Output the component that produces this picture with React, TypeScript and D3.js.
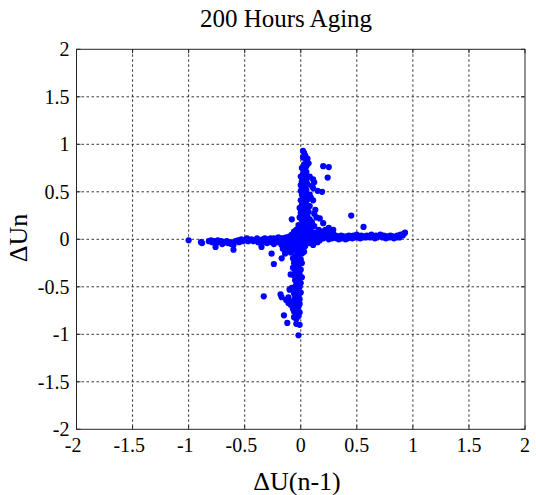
import React from "react";
import * as d3 from "d3";

const xTicks = [-2, -1.5, -1, -0.5, 0, 0.5, 1, 1.5, 2];
const yTicks = [-2, -1.5, -1, -0.5, 0, 0.5, 1, 1.5, 2];

const leftArm: [number, number][] = [
  [-1.0, -0.01], [-0.89, -0.03], [-0.88, -0.04], [-0.82, -0.02], [-0.8, -0.01], [-0.79, -0.03], [-0.77, -0.02],
  [-0.76, -0.04], [-0.76, -0.08], [-0.74, -0.01], [-0.73, -0.03], [-0.71, -0.02], [-0.7, -0.05], [-0.68, -0.03],
  [-0.66, -0.02], [-0.65, -0.04], [-0.63, -0.03], [-0.62, -0.05], [-0.6, -0.06], [-0.6, -0.11], [-0.58, -0.02],
  [-0.56, -0.01], [-0.55, -0.03], [-0.53, 0.0], [-0.52, -0.02], [-0.5, -0.01], [-0.48, 0.01], [-0.47, -0.02],
  [-0.45, -0.01], [-0.44, 0.0], [-0.42, -0.02], [-0.4, -0.01], [-0.39, 0.01], [-0.38, -0.03], [-0.36, -0.04],
  [-0.35, -0.08], [-0.35, -0.02], [-0.34, 0.0], [-0.33, -0.03], [-0.32, 0.01], [-0.31, -0.02], [-0.3, -0.04],
  [-0.29, 0.0], [-0.28, -0.02], [-0.27, 0.01], [-0.26, -0.03], [-0.26, -0.15], [-0.25, -0.01], [-0.24, -0.05],
  [-0.24, 0.01], [-0.24, -0.26], [-0.23, -0.02], [-0.22, 0.0], [-0.21, -0.03], [-0.2, 0.02], [-0.19, -0.01],
  [-0.18, -0.04], [-0.17, 0.01], [-0.17, -0.2], [-0.16, -0.02],
];

const rightArm: [number, number][] = [
  [0.1, 0.02], [0.11, -0.06], [0.12, 0.0], [0.13, 0.04], [0.14, 0.01], [0.15, 0.06], [0.15, -0.03], [0.16, 0.02],
  [0.17, -0.01], [0.18, 0.03], [0.19, 0.08], [0.2, 0.01], [0.21, 0.04], [0.22, 0.1], [0.23, 0.02], [0.24, 0.05],
  [0.25, 0.0], [0.26, 0.09], [0.27, 0.03], [0.28, 0.01], [0.29, 0.06], [0.3, 0.02], [0.31, 0.04], [0.32, 0.01],
  [0.33, 0.03], [0.34, 0.0], [0.35, 0.02], [0.36, 0.04], [0.37, 0.01], [0.38, 0.03], [0.39, 0.02], [0.4, 0.0],
  [0.41, 0.03], [0.42, 0.01], [0.43, 0.04], [0.44, 0.02], [0.45, 0.03], [0.46, 0.01], [0.47, 0.04], [0.48, 0.02],
  [0.49, 0.03], [0.5, 0.05], [0.51, 0.02], [0.52, 0.03], [0.53, 0.01], [0.54, 0.04], [0.55, 0.02], [0.57, 0.03],
  [0.58, 0.02], [0.59, 0.04], [0.6, 0.03], [0.62, 0.02], [0.63, 0.05], [0.64, 0.03], [0.66, 0.01], [0.67, 0.04],
  [0.68, 0.02], [0.7, 0.03], [0.71, 0.05], [0.73, 0.02], [0.74, 0.04], [0.76, 0.01], [0.77, 0.03], [0.79, 0.02],
  [0.8, 0.04], [0.82, 0.03], [0.83, 0.01], [0.85, 0.02], [0.86, 0.04], [0.88, 0.02], [0.89, 0.05], [0.91, 0.04],
  [0.92, 0.06], [0.93, 0.07],
];

const upArm: [number, number][] = [
  [0.02, 0.93], [0.03, 0.91], [0.04, 0.88], [0.02, 0.86], [0.06, 0.85], [0.05, 0.83], [0.07, 0.8], [0.03, 0.79],
  [0.05, 0.77], [0.01, 0.75], [0.03, 0.73], [0.05, 0.71], [0.02, 0.69], [0.04, 0.68], [0.08, 0.66], [0.0, 0.66],
  [0.03, 0.64], [0.11, 0.63], [0.05, 0.62], [0.01, 0.61], [0.03, 0.59], [0.12, 0.6], [0.06, 0.58], [0.0, 0.57],
  [0.1, 0.56], [0.04, 0.55], [0.02, 0.53], [0.11, 0.54], [0.05, 0.52], [0.0, 0.51], [0.15, 0.51], [0.19, 0.5],
  [0.03, 0.49], [0.08, 0.47], [0.01, 0.47], [0.04, 0.45], [0.09, 0.44], [0.02, 0.43], [0.06, 0.42], [0.11, 0.41],
  [0.0, 0.41], [0.03, 0.39], [0.05, 0.37], [0.01, 0.36], [0.08, 0.35], [0.03, 0.34], [-0.01, 0.33], [0.05, 0.32],
  [0.13, 0.31], [0.02, 0.3], [0.07, 0.29], [0.0, 0.28], [0.04, 0.27], [0.12, 0.27], [0.02, 0.25], [0.06, 0.24],
  [0.14, 0.23], [-0.01, 0.23], [0.03, 0.22], [0.08, 0.21], [0.17, 0.22], [0.01, 0.2], [0.05, 0.19], [0.1, 0.18],
  [0.2, 0.17], [0.02, 0.17], [0.07, 0.16], [-0.02, 0.15], [0.04, 0.14], [0.12, 0.14], [0.0, 0.13], [0.08, 0.12],
  [0.25, 0.12], [0.29, 0.1], [0.16, 0.1], [0.03, 0.11], [0.21, 0.08],
];

const downArm: [number, number][] = [
  [-0.02, -0.16], [0.01, -0.15], [-0.05, -0.18], [-0.07, -0.2], [0.0, -0.21], [-0.03, -0.23], [-0.06, -0.25],
  [0.01, -0.25], [-0.04, -0.27], [-0.07, -0.3], [-0.02, -0.3], [0.0, -0.32], [-0.05, -0.33], [-0.03, -0.35],
  [-0.09, -0.37], [-0.01, -0.37], [-0.06, -0.38], [-0.04, -0.4], [0.01, -0.4], [-0.02, -0.42], [-0.05, -0.43],
  [-0.03, -0.45], [0.0, -0.46], [-0.04, -0.48], [-0.01, -0.5], [-0.08, -0.51], [-0.05, -0.5], [-0.02, -0.53],
  [-0.1, -0.53], [-0.04, -0.55], [0.0, -0.56], [-0.18, -0.58], [-0.06, -0.57], [-0.02, -0.59], [-0.17, -0.61],
  [-0.11, -0.61], [-0.05, -0.61], [-0.13, -0.64], [-0.01, -0.63], [-0.07, -0.65], [-0.03, -0.66], [-0.11, -0.67],
  [-0.01, -0.68], [-0.09, -0.69], [-0.05, -0.7], [-0.02, -0.71], [-0.07, -0.73], [-0.03, -0.75], [-0.06, -0.76],
  [-0.01, -0.77], [-0.04, -0.79], [-0.15, -0.8], [-0.02, -0.81], [-0.06, -0.82], [-0.04, -0.84], [-0.12, -0.88],
  [-0.04, -0.89], [-0.01, -0.9], [-0.02, -1.01],
];

const core: [number, number][] = [
  [-0.15, 0.01], [-0.14, -0.03], [-0.13, 0.02], [-0.12, -0.05], [-0.12, 0.0], [-0.11, -0.02], [-0.1, 0.03],
  [-0.1, -0.07], [-0.09, 0.0], [-0.09, -0.04], [-0.08, 0.05], [-0.08, -0.09], [-0.08, -0.02], [-0.07, 0.02],
  [-0.07, -0.06], [-0.06, 0.08], [-0.06, -0.01], [-0.06, -0.11], [-0.05, 0.04], [-0.05, -0.04], [-0.05, -0.08],
  [-0.04, 0.1], [-0.04, 0.01], [-0.04, -0.13], [-0.03, 0.06], [-0.03, -0.02], [-0.03, -0.06], [-0.02, 0.12],
  [-0.02, 0.03], [-0.02, -0.1], [-0.01, 0.08], [-0.01, 0.0], [-0.01, -0.04], [-0.01, -0.14], [0.0, 0.05],
  [0.0, -0.02], [0.0, -0.08], [0.01, 0.1], [0.01, 0.02], [0.01, -0.05], [0.02, 0.07], [0.02, -0.01], [0.02, -0.11],
  [0.03, 0.04], [0.03, -0.03], [0.04, 0.09], [0.04, 0.01], [0.04, -0.07], [0.05, 0.05], [0.05, -0.02], [0.06, 0.11],
  [0.06, 0.02], [0.07, 0.07], [0.07, -0.01], [0.08, 0.04], [0.08, -0.04], [0.09, 0.09], [0.09, 0.01], [0.1, 0.05],
  [0.11, -0.02], [0.12, 0.07], [0.13, 0.03], [-0.11, -0.11], [-0.13, -0.09], [-0.17, -0.06], [-0.19, -0.02],
  [-0.14, -0.15], [0.03, -0.13], [-0.09, -0.14], [0.05, 0.13], [-0.16, -0.1],
];

const outliers: [number, number][] = [
  [0.2, 0.77], [0.25, 0.76], [0.24, 0.65], [0.45, 0.25], [0.56, 0.13], [-0.08, 0.21], [-0.33, -0.6],
];

const allPoints = [...leftArm, ...rightArm, ...upArm, ...downArm, ...core, ...outliers];

const W = 536;
const H = 495;
const L = 76.5;
const R = 525;
const T = 49.3;
const B = 429.3;
const FONT = "'Liberation Serif', 'Times New Roman', serif";

export default function App() {
  const x = d3.scaleLinear().domain([-2, 2]).range([L, R]);
  const y = d3.scaleLinear().domain([-2, 2]).range([B, T]);
  const fmt = (v: number) => (v < 0 ? "-" + String(Math.abs(v)) : String(v));
  const tickFs = 20;
  return (
    <svg width={W} height={H} style={{ position: "absolute", left: 0, top: 0, background: "#fff" }}>
      <rect x={0} y={0} width={W} height={H} fill="#fff" />
      {/* grid */}
      {xTicks.slice(1, -1).map((t) => (
        <line key={"gx" + t} x1={x(t)} x2={x(t)} y1={T} y2={B} stroke="#222" strokeWidth={0.9} strokeDasharray="2.5,2.5" />
      ))}
      {yTicks.slice(1, -1).map((t) => (
        <line key={"gy" + t} x1={L} x2={R} y1={y(t)} y2={y(t)} stroke="#222" strokeWidth={0.9} strokeDasharray="2.5,2.5" />
      ))}
      {/* points */}
      {allPoints.map((p, i) => (
        <circle key={i} cx={x(p[0])} cy={y(p[1])} r={3.1} fill="#0000ff" />
      ))}
      {/* box */}
      <rect x={L} y={T} width={R - L} height={B - T} fill="none" stroke="#262626" strokeWidth={1} />
      {/* ticks inside */}
      {xTicks.map((t) => (
        <g key={"tx" + t}>
          <line x1={x(t)} x2={x(t)} y1={B} y2={B - 4} stroke="#262626" />
          <line x1={x(t)} x2={x(t)} y1={T} y2={T + 4} stroke="#262626" />
        </g>
      ))}
      {yTicks.map((t) => (
        <g key={"ty" + t}>
          <line x1={L} x2={L + 4} y1={y(t)} y2={y(t)} stroke="#262626" />
          <line x1={R} x2={R - 4} y1={y(t)} y2={y(t)} stroke="#262626" />
        </g>
      ))}
      {/* x tick labels */}
      {xTicks.map((t) => (
        <text
          key={"lx" + t}
          x={x(t) - (t < 0 ? tickFs * 0.333 / 2 : 0)}
          y={452}
          textAnchor="middle"
          fontFamily={FONT}
          fontSize={tickFs}
          fill="#000"
        >
          {fmt(t)}
        </text>
      ))}
      {/* y tick labels */}
      {yTicks.map((t) => (
        <text
          key={"ly" + t}
          x={69.5}
          y={y(t)}
          dy="0.35em"
          textAnchor="end"
          fontFamily={FONT}
          fontSize={tickFs}
          fill="#000"
        >
          {fmt(t)}
        </text>
      ))}
      <text x={286} y={27} textAnchor="middle" fontFamily={FONT} fontSize={25} fill="#000">
        200 Hours Aging
      </text>
      <text x={297} y={490} textAnchor="middle" fontFamily={FONT} fontSize={26} fill="#000">
        ΔU(n-1)
      </text>
      <text
        transform={`translate(27,238) rotate(-90)`}
        textAnchor="middle"
        fontFamily={FONT}
        fontSize={26}
        fill="#000"
      >
        ΔUn
      </text>
    </svg>
  );
}
